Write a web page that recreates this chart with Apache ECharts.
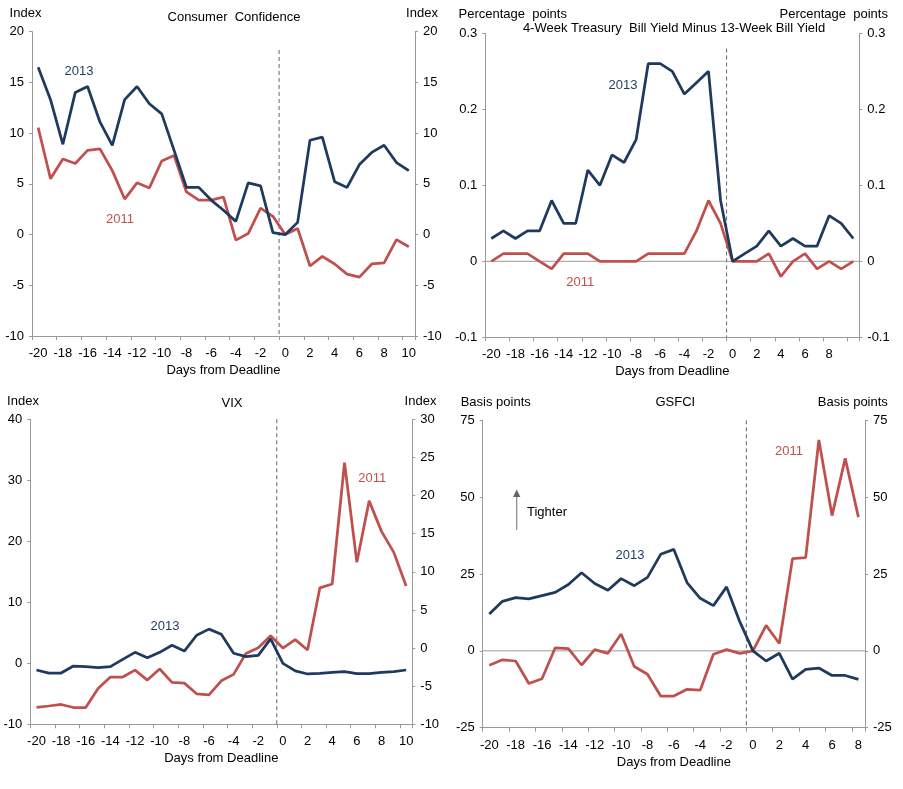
<!DOCTYPE html>
<html>
<head>
<meta charset="utf-8">
<script src="https://cdn.jsdelivr.net/npm/echarts@6.0.0/dist/echarts.min.js"></script>
<style>
  html, body { margin: 0; padding: 0; background: #fff; }
  #main { width: 903px; height: 789px; }
</style>
</head>
<body>
<div id="main"></div>
<script>
// days from deadline
const days10 = [-20, -19, -18, -17, -16, -15, -14, -13, -12, -11, -10, -9, -8, -7, -6, -5, -4, -3, -2, -1, 0, 1, 2, 3, 4, 5, 6, 7, 8, 9, 10];
const days8 = [-20, -19, -18, -17, -16, -15, -14, -13, -12, -11, -10, -9, -8, -7, -6, -5, -4, -3, -2, -1, 0, 1, 2, 3, 4, 5, 6, 7, 8];

// Consumer Confidence (index)
const confidence2013 = [16.5, 13.3, 8.9, 14.0, 14.6, 11.1, 8.8, 13.3, 14.6, 12.9, 11.9, 8.3, 4.65, 4.65, 3.4, 2.4, 1.3, 5.1, 4.8, 0.2, 0.0, 1.2, 9.3, 9.6, 5.2, 4.65, 6.9, 8.1, 8.8, 7.1, 6.3];
const confidence2011 = [10.55, 5.5, 7.45, 7.0, 8.3, 8.45, 6.3, 3.5, 5.1, 4.6, 7.25, 7.8, 4.2, 3.4, 3.4, 3.7, -0.55, 0.1, 2.6, 1.8, 0.0, 0.6, -3.1, -2.15, -2.9, -3.9, -4.2, -2.9, -2.8, -0.5, -1.2];

// 4-week minus 13-week bill yield (percentage points)
const billSpread2013 = [0.03, 0.04, 0.03, 0.04, 0.04, 0.08, 0.05, 0.05, 0.12, 0.10, 0.14, 0.13, 0.16, 0.26, 0.26, 0.25, 0.22, 0.235, 0.25, 0.08, 0.0, 0.01, 0.02, 0.04, 0.02, 0.03, 0.02, 0.02, 0.06, 0.05, 0.03];
const billSpread2011 = [0.0, 0.01, 0.01, 0.01, 0.0, -0.01, 0.01, 0.01, 0.01, 0.0, 0.0, 0.0, 0.0, 0.01, 0.01, 0.01, 0.01, 0.04, 0.08, 0.05, 0.0, 0.0, 0.0, 0.01, -0.02, 0.0, 0.01, -0.01, 0.0, -0.01, 0.0];

// VIX (2013 left axis, 2011 right axis)
const vix2013 = [-1.1, -1.6, -1.6, -0.45, -0.55, -0.7, -0.55, 0.65, 1.8, 0.9, 1.8, 2.95, 2.0, 4.6, 5.6, 4.75, 1.65, 1.1, 1.3, 4.0, 0.0, -1.25, -1.75, -1.65, -1.5, -1.35, -1.7, -1.7, -1.5, -1.35, -1.1];
const vix2011 = [-7.77, -7.6, -7.4, -7.8, -7.8, -5.3, -3.8, -3.8, -2.9, -4.2, -2.75, -4.5, -4.6, -6.0, -6.15, -4.3, -3.45, -0.7, 0.05, 1.6, 0.0, 1.1, -0.25, 7.9, 8.4, 24.3, 11.25, 19.3, 15.3, 12.55, 8.15];

// GSFCI (basis points)
const gsfci2013 = [12.0, 16.1, 17.3, 16.9, 17.95, 19.0, 21.6, 25.4, 21.9, 19.7, 23.5, 21.2, 23.9, 31.4, 33.0, 22.2, 17.1, 14.7, 20.8, 9.5, 0.0, -3.3, -0.8, -9.2, -6.0, -5.6, -8.0, -8.0, -9.3];
const gsfci2011 = [-4.7, -2.9, -3.3, -10.6, -9.1, 1.0, 0.7, -4.6, 0.4, -0.8, 5.5, -5.1, -7.6, -14.7, -14.7, -12.5, -12.8, -1.1, 0.4, -0.8, 0.0, 8.3, 2.4, 30.0, 30.3, 68.6, 44.0, 62.6, 43.5];

// where the dashed deadline line starts (top value on left axis)
const deadlineTop = [18.2, 0.28, 40, 75];

const NAVY = '#1f3a5f';
const RED = '#c0504d';
const AXIS = '#999999';
const FONT = 'Liberation Sans, Arial, sans-serif';

var chart = echarts.init(document.getElementById('main'));

const grids = [
  { left: 32, right: 488, top: 31.7, bottom: 453 },
  { left: 485.3, right: 43.7, top: 33.3, bottom: 451.7 },
  { left: 30.3, right: 490.7, top: 419.3, bottom: 64.7 },
  { left: 482.7, right: 38, top: 420.3, bottom: 61.3 },
];

const panelDays = [days10, days10, days10, days8];
const leftRange = [[-10, 20, 5], [-0.1, 0.3, 0.1], [-10, 40, 10], [-25, 75, 25]];
const rightRange = [[-10, 20, 5], [-0.1, 0.3, 0.1], [-10, 30, 5], [-25, 75, 25]];

let xAxes = [];
let yAxes = [];
let series = [];

const yAxisBase = (gridIndex, range, position) => ({
  gridIndex: gridIndex,
  type: 'value',
  position: position,
  min: range[0],
  max: range[1],
  interval: range[2],
  axisLine: { show: true, onZero: false, lineStyle: { color: AXIS, width: 1 } },
  axisTick: { show: true, length: 3, lineStyle: { color: AXIS } },
  splitLine: { show: false },
  axisLabel: { color: '#000', fontSize: 13, fontFamily: FONT, margin: 8 },
});

for (let i = 0; i < 4; i++) {
  let days = panelDays[i];
  xAxes.push({
    gridIndex: i,
    type: 'category',
    data: days,
    boundaryGap: true,
    axisLine: { show: true, onZero: false, lineStyle: { color: AXIS } },
    axisTick: { show: true, interval: 1, length: 4, lineStyle: { color: AXIS } },
    axisLabel: {
      interval: 1,
      color: '#000',
      fontSize: 13,
      fontFamily: FONT,
      margin: 11,
      // the bill yield panel stops its labels at 8
      formatter: (v) => (i === 1 && v === '10') ? '' : v,
    },
    name: 'Days from Deadline',
    nameLocation: 'middle',
    nameGap: 28,
    nameTextStyle: { color: '#000', fontSize: 13, fontFamily: FONT },
  });
  // hidden value axis, used for the deadline line and zero line
  xAxes.push({
    gridIndex: i,
    type: 'value',
    min: days[0] - 0.5,
    max: days[days.length - 1] + 0.5,
    show: false,
  });
  yAxes.push(yAxisBase(i, leftRange[i], 'left'));
  yAxes.push(yAxisBase(i, rightRange[i], 'right'));

  series.push({
    type: 'line',
    xAxisIndex: 2 * i + 1,
    yAxisIndex: 2 * i,
    data: [[-0.5, deadlineTop[i]], [-0.5, leftRange[i][0]]],
    symbol: 'none',
    silent: true,
    z: 1,
    lineStyle: { color: '#666', width: 1, type: [4, 3] },
  });
  if (i === 1 || i === 3) {
    series.push({
      type: 'line',
      xAxisIndex: 2 * i + 1,
      yAxisIndex: 2 * i,
      data: [[days[0] - 0.5, 0], [days[days.length - 1] + 0.5, 0]],
      symbol: 'none',
      silent: true,
      z: 1,
      lineStyle: { color: AXIS, width: 1 },
    });
  }
}

const lineSeries = (xIdx, yIdx, data, color) => ({
  type: 'line',
  xAxisIndex: xIdx,
  yAxisIndex: yIdx,
  data: data,
  symbol: 'none',
  z: 3,
  lineStyle: { color: color, width: 2.75 },
  itemStyle: { color: color },
});

series.push(lineSeries(0, 0, confidence2011, RED));
series.push(lineSeries(0, 0, confidence2013, NAVY));
series.push(lineSeries(2, 2, billSpread2011, RED));
series.push(lineSeries(2, 2, billSpread2013, NAVY));
series.push(lineSeries(4, 5, vix2011, RED));
series.push(lineSeries(4, 4, vix2013, NAVY));
series.push(lineSeries(6, 6, gsfci2011, RED));
series.push(lineSeries(6, 6, gsfci2013, NAVY));

const txt = (x, y, text, color, align) => ({
  type: 'text',
  x: x,
  y: y,
  style: {
    text: text,
    fill: color || '#000',
    font: '13px ' + FONT,
    align: align || 'center',
    verticalAlign: 'middle',
  },
});

const graphic = [
  // panel headers
  txt(25.5, 13.7, 'Index'),
  txt(422, 13.7, 'Index'),
  txt(234, 17.3, 'Consumer  Confidence'),
  txt(512.7, 14.3, 'Percentage  points'),
  txt(833.7, 14.3, 'Percentage  points'),
  txt(674, 28.3, '4-Week Treasury  Bill Yield Minus 13-Week Bill Yield'),
  txt(23, 401.7, 'Index'),
  txt(420.5, 401.7, 'Index'),
  txt(232, 403.3, 'VIX'),
  txt(495.7, 402.3, 'Basis points'),
  txt(852.8, 402.3, 'Basis points'),
  txt(675.3, 402.3, 'GSFCI'),
  // series labels
  txt(79, 71, '2013', NAVY),
  txt(120, 219, '2011', RED),
  txt(623, 85, '2013', NAVY),
  txt(580.3, 282.3, '2011', RED),
  txt(165, 626, '2013', NAVY),
  txt(372.3, 478.3, '2011', RED),
  txt(630, 555, '2013', NAVY),
  txt(789, 451, '2011', RED),
  // tighter arrow
  txt(527, 512.3, 'Tighter', '#000', 'left'),
  {
    type: 'line',
    shape: { x1: 516.7, y1: 530, x2: 516.7, y2: 496 },
    style: { stroke: '#888', lineWidth: 1.2 },
  },
  {
    type: 'polygon',
    shape: { points: [[516.7, 489.5], [513, 497], [520.4, 497]] },
    style: { fill: '#666' },
  },
];

var option = {
  animation: false,
  backgroundColor: '#fff',
  textStyle: { fontFamily: FONT },
  grid: grids.map(g => Object.assign({ outerBoundsMode: 'none' }, g)),
  xAxis: xAxes,
  yAxis: yAxes,
  series: series,
  graphic: graphic,
};

chart.setOption(option);
</script>
</body>
</html>
